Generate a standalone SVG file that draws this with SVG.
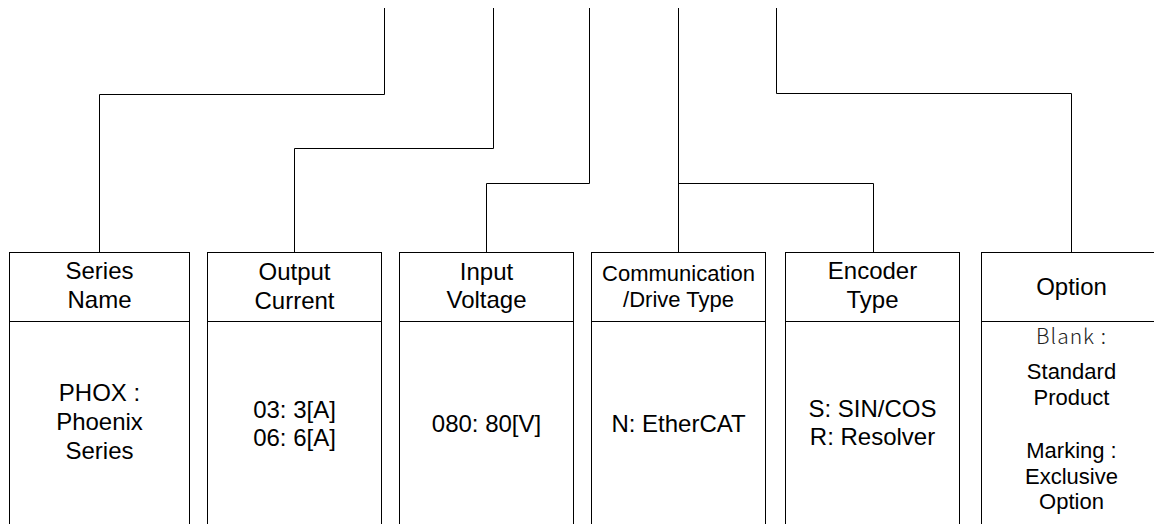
<svg xmlns="http://www.w3.org/2000/svg" width="1154" height="524" viewBox="0 0 1154 524">
<style>
.box{fill:#fff;stroke:#000;stroke-width:1}
.div{stroke:#000;stroke-width:1}
.conn{fill:none;stroke:#000;stroke-width:1}
.t{font-family:"Liberation Sans",Arial,sans-serif;font-size:24px;fill:#000;text-anchor:middle}
.s{font-size:22px}
.k{font-family:"Noto Sans CJK KR","Noto Sans",sans-serif;font-size:21px;fill:#222;font-weight:300;letter-spacing:1px}
</style>
<rect width="1154" height="524" fill="#fff"/>
<g id="connectors">
<path class="conn" d="M384.5 8V94.5H99.5V252.5"/>
<path class="conn" d="M493.5 8V148.5H294.5V252.5"/>
<path class="conn" d="M589.5 8V183.5H486.5V252.5"/>
<path class="conn" d="M678.5 8V252.5"/>
<path class="conn" d="M678.5 183.5H873.5V252.5"/>
<path class="conn" d="M776.5 8V93.5H1071.5V252.5"/>
</g>
<g id="series">
<rect class="box" x="9.5" y="252.5" width="180" height="290"/>
<line class="div" x1="9.5" y1="321.5" x2="189.5" y2="321.5"/>
<text class="t" x="99.5" y="279">Series</text>
<text class="t" x="99.5" y="308">Name</text>
<text class="t" x="99.5" y="401">PHOX :</text>
<text class="t" x="99.5" y="430">Phoenix</text>
<text class="t" x="99.5" y="459">Series</text>
</g>
<g id="output">
<rect class="box" x="207.5" y="252.5" width="174" height="290"/>
<line class="div" x1="207.5" y1="321.5" x2="381.5" y2="321.5"/>
<text class="t" x="294.5" y="280">Output</text>
<text class="t" x="294.5" y="309">Current</text>
<text class="t" x="294.5" y="418">03: 3[A]</text>
<text class="t" x="294.5" y="446">06: 6[A]</text>
</g>
<g id="input">
<rect class="box" x="399.5" y="252.5" width="174" height="290"/>
<line class="div" x1="399.5" y1="321.5" x2="573.5" y2="321.5"/>
<text class="t" x="486.5" y="280">Input</text>
<text class="t" x="486.5" y="308">Voltage</text>
<text class="t" x="486.5" y="432">080: 80[V]</text>
</g>
<g id="comm">
<rect class="box" x="591.5" y="252.5" width="174" height="290"/>
<line class="div" x1="591.5" y1="321.5" x2="765.5" y2="321.5"/>
<text class="t s" x="678.5" y="281">Communication</text>
<text class="t s" x="678.5" y="307">/Drive Type</text>
<text class="t" x="678.5" y="432">N: EtherCAT</text>
</g>
<g id="encoder">
<rect class="box" x="785.5" y="252.5" width="174" height="290"/>
<line class="div" x1="785.5" y1="321.5" x2="959.5" y2="321.5"/>
<text class="t" x="872.5" y="279">Encoder</text>
<text class="t" x="872.5" y="308">Type</text>
<text class="t" x="872.5" y="417">S: SIN/COS</text>
<text class="t" x="872.5" y="445">R: Resolver</text>
</g>
<g id="option">
<rect class="box" x="981.5" y="252.5" width="180" height="290"/>
<line class="div" x1="981.5" y1="321.5" x2="1161.5" y2="321.5"/>
<text class="t" x="1071.5" y="295">Option</text>
<text class="t k" x="1071.5" y="344">Blank :</text>
<text class="t s" x="1071.5" y="379">Standard</text>
<text class="t s" x="1071.5" y="405">Product</text>
<text class="t s" x="1071.5" y="458">Marking :</text>
<text class="t s" x="1071.5" y="484">Exclusive</text>
<text class="t s" x="1071.5" y="509">Option</text>
</g>
</svg>
